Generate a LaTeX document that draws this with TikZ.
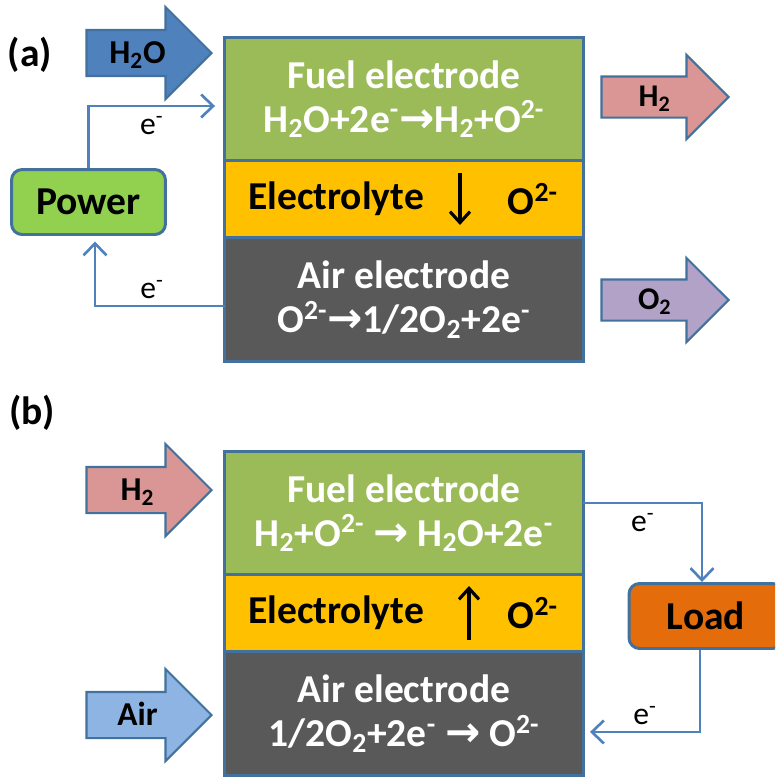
\documentclass[tikz,border=0pt]{standalone}
\usepackage{fontspec}
\setmainfont{Carlito}
\newfontfamily\dvsfont{DejaVu Sans}
\usetikzlibrary{arrows.meta,positioning,shapes.arrows,calc}
\definecolor{Frame}{HTML}{41719C}
\definecolor{Wire}{HTML}{4F81BD}
\definecolor{FuelF}{HTML}{9BBB59}
\definecolor{ElecF}{HTML}{FFC000}
\definecolor{AirF}{HTML}{595959}
\definecolor{PowerF}{HTML}{92D050}
\definecolor{LoadF}{HTML}{E46C0A}
\definecolor{WaterF}{HTML}{4F81BD}
\definecolor{HydF}{HTML}{D99694}
\definecolor{OxyF}{HTML}{B3A2C7}
\definecolor{AirInF}{HTML}{8EB4E3}
\newcommand{\eminus}{e\textsuperscript{-}}
\newcommand{\yields}{{\dvsfont\bfseries\fontsize{24}{25}\selectfont →}}

\begin{document}
\begin{tikzpicture}[
  x=0.02cm, y=-0.02cm,
  font=\fontsize{22.5}{25}\selectfont\bfseries,
  layer/.style={draw=Frame, line width=1.7pt, outer sep=0pt, minimum width=7.18cm,
    align=center, text=white},
  fuel/.style={layer, fill=FuelF, minimum height=2.46cm},
  elec/.style={layer, fill=ElecF, minimum height=1.54cm},
  airel/.style={layer, fill=AirF, minimum height=2.48cm},
  srcbox/.style={draw=Frame, line width=1.7pt, rounded corners=6pt, minimum width=3.08cm,
    minimum height=1.3cm, text=black},
  fatin/.style={single arrow, draw=Frame, line width=1.2pt, anchor=tip, minimum height=2.5cm,
    single arrow head extend=0.46cm, inner ysep=0pt, text height=0.645cm, text depth=0.235cm,
    text=black, font=\fontsize{19}{20}\selectfont\bfseries},
  fatout/.style={single arrow, draw=Frame, line width=1.2pt, anchor=tip, minimum height=2.54cm,
    single arrow head extend=0.43cm, inner ysep=0pt, text height=0.583cm, text depth=0.197cm,
    text=black, font=\fontsize{18}{19}\selectfont\bfseries},
  wire/.style={draw=Wire, line width=1.5pt, -{Straight Barb[length=2.4mm, width=4.6mm]}},
  ionflow/.style={line width=1.8pt, -{Straight Barb[length=2.2mm, width=4mm]}},
  tag/.style={font=\fontsize{18}{20}\selectfont, text=black},
  word/.style={text=black}
]
  \useasboundingbox (0,0) rectangle (775,778);
  \clip (0,0) rectangle (775,778);

  % (a) electrolysis
  \node[word] (tagA) at (30,55) {(a)};
  \node[fuel] (fuelA) at (404,99) {Fuel electrode\\H\textsubscript{2}O+2\eminus\yields H\textsubscript{2}+O\textsuperscript{2-}};
  \node[elec, below=0pt of fuelA] (elecA) {};
  \node[airel, below=0pt of elecA] (airA) {Air electrode\\O\textsuperscript{2-}\yields 1/2O\textsubscript{2}+2\eminus};
  \node[word] (elecAname) at ([xshift=-1.36cm]elecA.center) {Electrolyte};
  \node[word] (elecAion) at ([xshift=2.58cm]elecA.center) {O\textsuperscript{2-}};
  \coordinate (ionAtop) at ([xshift=1.12cm, yshift=0.52cm]elecA.center);
  \coordinate (ionAbot) at ([xshift=1.12cm, yshift=-0.52cm]elecA.center);
  \draw[ionflow] (ionAtop) -- (ionAbot);

  \node[fatin, fill=WaterF] (waterin) at (213,53) {H\textsubscript{2}O};
  \node[fatout, fill=HydF] (hydout) at (730,97) {H\textsubscript{2}};
  \node[fatout, fill=OxyF] (oxyout) at (730,300) {O\textsubscript{2}};

  \node[srcbox, fill=PowerF] (power) at (88.5,202) {Power};
  \draw[wire] (power.north) |- node[tag, pos=0.75, below=2pt] {\eminus}
    ([xshift=-0.19cm, yshift=-0.14cm]fuelA.west);
  \draw[wire] ([yshift=-0.13cm]airA.west) -| node[tag, pos=0.28, above] {\eminus}
    ([xshift=0.13cm, yshift=-0.11cm]power.south);

  % (b) fuel cell
  \node[word] (tagB) at (32,413) {(b)};
  \node[fuel] (fuelB) at (404,513) {Fuel electrode\\H\textsubscript{2}+O\textsuperscript{2-} \yields\ H\textsubscript{2}O+2\eminus};
  \node[elec, below=0pt of fuelB] (elecB) {};
  \node[airel, below=0pt of elecB] (airB) {Air electrode\\1/2O\textsubscript{2}+2\eminus\ \yields\ O\textsuperscript{2-}};
  \node[word] (elecBname) at ([xshift=-1.36cm]elecB.center) {Electrolyte};
  \node[word] (elecBion) at ([xshift=2.58cm]elecB.center) {O\textsuperscript{2-}};
  \coordinate (ionBbot) at ([xshift=1.3cm, yshift=-0.54cm]elecB.center);
  \coordinate (ionBtop) at ([xshift=1.3cm, yshift=0.54cm]elecB.center);
  \draw[ionflow] (ionBbot) -- (ionBtop);

  \node[fatin, fill=HydF] (hydin) at (213,490) {H\textsubscript{2}};
  \node[fatin, fill=AirInF] (airin) at (213,715) {Air};

  \node[srcbox, fill=LoadF] (load) at (706,616) {Load};
  \draw[wire] ([yshift=0.2cm]fuelB.east) -| node[tag, pos=0.25, below=2pt] {\eminus}
    ([xshift=-0.08cm]load.north);
  \draw[wire] ([xshift=-0.12cm]load.south) |- node[tag, pos=0.75, above] {\eminus}
    ([xshift=0.13cm, yshift=-0.37cm]airB.east);
\end{tikzpicture}
\end{document}
